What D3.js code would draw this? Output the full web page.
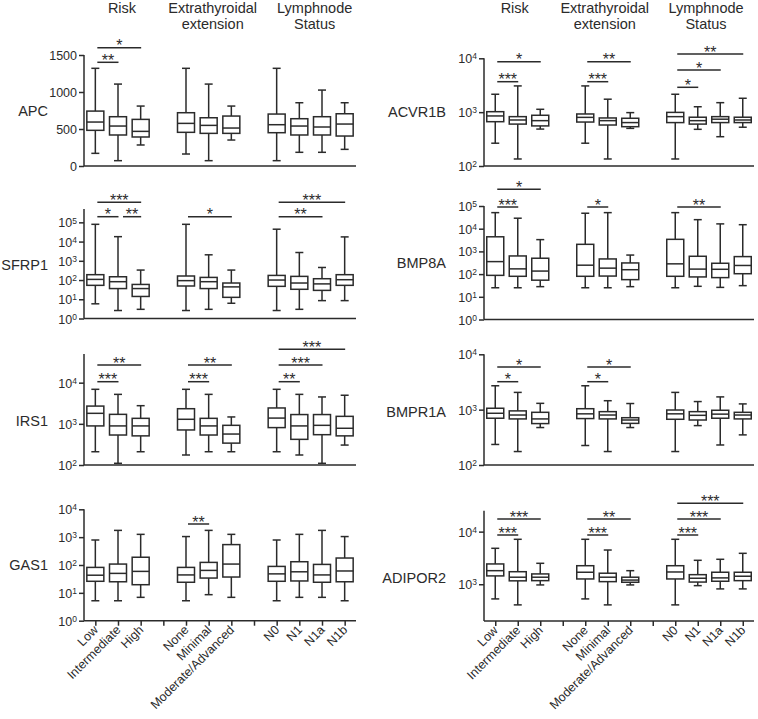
<!DOCTYPE html>
<html><head><meta charset="utf-8">
<script src="https://cdn.jsdelivr.net/npm/d3@7"></script>
<style>
html,body{margin:0;padding:0;background:#fff;}
svg{display:block;font-family:"Liberation Sans",Arial,sans-serif;}
</style></head>
<body>
<svg id="chart" width="758" height="719"></svg>
<script>
// ---------------- DATA ----------------
const slots = ["Low","Intermediate","High","gap1","None","Minimal","Moderate/Advanced","gap2","N0","N1","N1a","N1b"];
const categories = ["Low","Intermediate","High","None","Minimal","Moderate/Advanced","N0","N1","N1a","N1b"];
const groupNames = [["Risk"],["Extrathyroidal","extension"],["Lymphnode","Status"]];
const groupCats = [["Low","Intermediate","High"],["None","Minimal","Moderate/Advanced"],["N0","N1","N1a","N1b"]];
const genes = ["APC","SFRP1","IRS1","GAS1","ACVR1B","BMP8A","BMPR1A","ADIPOR2"];
const linearTicks = [0,500,1000,1500];

// box stats per category: [min, q1, median, q3, max]
const APC = [[171,482,594,742,1320],[72,419,540,666,1107],[284,392,468,630,810],
  [162,455,576,720,1320],[72,441,549,652,1107],[351,441,513,675,810],
  [72,450,558,702,1320],[185,419,540,639,855],[185,419,527,666,1026],[225,405,567,706,855]];
const SFRP1 = [[5.8,53,108,190,79000],[2.6,36,82,148,18000],[3.0,14,36,59,330],
  [2.6,49,93,162,79000],[3.0,36,82,137,2050],[6.2,12.6,44,70,330],
  [2.6,47,100,174,44000],[3.0,33,70,155,2700],[8.5,29,63,117,450],[8.5,53,104,190,17500]];
const IRS1 = [[210,890,1800,2700,6900],[110,535,890,1700,5200],[210,510,890,1360,2760],
  [175,710,1290,2330,6900],[210,535,890,1360,5200],[210,340,565,920,1470],
  [210,810,1380,2430,6900],[175,420,890,1680,5200],[110,545,920,1680,4500],[305,510,780,1520,4950]];
const GAS1 = [[5.2,26,43,82,790],[5.2,25,50,108,1750],[6.9,19.6,59,190,1260],
  [5.2,24,44,82,1050],[8.6,34,64,124,1750],[6.9,37,108,540,1260],
  [5.2,26,48,89,790],[6.9,26.7,57,131,1260],[6.9,24,44,105,1750],[5.2,25,61,178,1050]];
const ACVR1B = [[265,665,850,1020,2150],[135,600,715,825,3070],[485,555,695,875,1130],
  [265,655,800,925,3070],[135,577,695,780,1740],[500,537,640,770,980],
  [135,640,825,990,2150],[480,600,695,805,1260],[350,640,740,825,1500],[525,640,715,805,1810]];
const BMP8A = [[25,88,355,4400,51000],[25,80,170,630,29000],[28,54,136,500,3300],
  [25,80,247,2050,48000],[25,82,183,465,51000],[28,57,156,310,690],
  [25,80,283,3400,51000],[29,75,166,610,25000],[26,70,163,300,16300],[31,104,240,590,15000]];
const BMPR1A = [[235,700,860,1060,2700],[175,680,800,950,2050],[475,560,680,895,1300],
  [225,690,840,1040,2700],[175,680,800,920,1450],[475,565,650,715,1290],
  [175,670,840,985,2050],[515,650,790,920,1400],[230,700,830,975,1700],[350,680,800,895,1270]];
const ADIPOR2 = [[526,1440,1810,2430,4820],[405,1160,1360,1730,7150],[970,1170,1360,1570,2500],
  [526,1260,1690,2250,7150],[405,1120,1360,1620,4470],[970,1090,1200,1360,1810],
  [405,1260,1710,2250,7150],[940,1100,1300,1520,2850],[815,1140,1320,1690,2980],[815,1170,1420,1690,3870]];

// significance: [from, to, label, level]
const sigAPC = [["Low","High","*",1],["Low","Intermediate","**",0]];
const sigSFRP1 = [["Low","High","***",1],["Low","Intermediate","*",0],["Intermediate","High","**",0],
  ["None","Moderate/Advanced","*",0],["N0","N1b","***",1],["N0","N1a","**",0]];
const sigIRS1 = [["Low","High","**",1],["Low","Intermediate","***",0],["None","Moderate/Advanced","**",1],
  ["None","Minimal","***",0],["N0","N1b","***",2],["N0","N1a","***",1],["N0","N1","**",0]];
const sigGAS1 = [["None","Minimal","**",0]];
const sigACVR1B = [["Low","High","*",1],["Low","Intermediate","***",0],["None","Moderate/Advanced","**",1],
  ["None","Minimal","***",0],["N0","N1b","**",2],["N0","N1a","*",1],["N0","N1","*",0]];
const sigBMP8A = [["Low","High","*",1],["Low","Intermediate","***",0],["None","Minimal","*",0],["N0","N1a","**",0]];
const sigBMPR1A = [["Low","High","*",1],["Low","Intermediate","*",0],["None","Moderate/Advanced","*",1],["None","Minimal","*",0]];
const sigADIPOR2 = [["Low","High","***",1],["Low","Intermediate","***",0],["None","Moderate/Advanced","**",1],
  ["None","Minimal","***",0],["N0","N1b","***",2],["N0","N1a","***",1],["N0","N1","***",0]];

const boxData = {APC, SFRP1, IRS1, GAS1, ACVR1B, BMP8A, BMPR1A, ADIPOR2};
const sigData = {APC:sigAPC, SFRP1:sigSFRP1, IRS1:sigIRS1, GAS1:sigGAS1, ACVR1B:sigACVR1B, BMP8A:sigBMP8A, BMPR1A:sigBMPR1A, ADIPOR2:sigADIPOR2};

// ---------------- LAYOUT ----------------
const COL = [{x:[84,356], labelX:48, headOff:4}, {x:[484,754], labelX:446, headOff:-3}];
const layout = {
  APC:    {col:0, type:"linear", domain:[0,1500],  range:[166,55],     ticks:linearTicks, sigY:[62.3,47.7], labelY:111, xlabels:false},
  SFRP1:  {col:0, type:"log", domain:[1,5e5],      range:[318.5,208.9], ticks:[1,10,100,1e3,1e4,1e5], sigY:[216.7,202.3], labelY:265, xlabels:false},
  IRS1:   {col:0, type:"log", domain:[100,5e4],    range:[465,353.9],  ticks:[100,1e3,1e4], sigY:[381.7,365,349.3], labelY:421, xlabels:false},
  GAS1:   {col:0, type:"log", domain:[1,1e4],      range:[620.7,509.3], ticks:[1,10,100,1e3,1e4], sigY:[524], labelY:565, xlabels:true},
  ACVR1B: {col:1, type:"log", domain:[100,1e4],    range:[166,58.3],   ticks:[100,1e3,1e4], sigY:[81.7,61.7], sigYLymph:[87.3,70,54], labelY:112, xlabels:false},
  BMP8A:  {col:1, type:"log", domain:[1,1e5],      range:[319.5,206],  ticks:[1,10,100,1e3,1e4,1e5], sigY:[207,189.3], labelY:263, xlabels:false},
  BMPR1A: {col:1, type:"log", domain:[100,1e4],    range:[465,354.3],  ticks:[100,1e3,1e4], sigY:[381.7,367], labelY:412, xlabels:false},
  ADIPOR2:{col:1, type:"log", domain:[200,25000],  range:[621,510.7],  ticks:[1e3,1e4], sigY:[535,519,503.3], labelY:578, xlabels:true}
};
const INK = "#2b2b2b";
const LW = 1.5;
const BOXW = 17, CAPW = 8;

const svg = d3.select("#chart");

// headers
COL.forEach((c) => {
  const x = d3.scalePoint().domain(slots).range(c.x).padding(0.5);
  groupNames.forEach((lines, gi) => {
    const cats = groupCats[gi];
    const cx = (x(cats[0]) + x(cats[cats.length-1]))/2 + c.headOff;
    const t = svg.append("text").attr("x", cx).attr("y", 12.7)
      .attr("text-anchor","middle").attr("font-size", 14.5).attr("fill", INK);
    lines.forEach((ln, li) => {
      t.append("tspan").attr("x", cx).attr("y", 12.7 + li*16.3).text(ln);
    });
  });
});

const lymphCats = groupCats[2];

genes.forEach(g => {
  const L = layout[g];
  const C = COL[L.col];
  const x = d3.scalePoint().domain(slots).range(C.x).padding(0.5);
  const y = (L.type === "linear" ? d3.scaleLinear() : d3.scaleLog()).domain(L.domain).range(L.range);
  const gp = svg.append("g");

  // y axis
  const yAxis = d3.axisLeft(y).tickValues(L.ticks).tickSize(5).tickPadding(2).tickFormat("");
  const ya = gp.append("g").attr("transform", `translate(${C.x[0]},0)`).call(yAxis);
  ya.select(".domain").attr("d", `M0,${L.range[1]}V${L.range[0]}`).attr("stroke", INK).attr("stroke-width", LW);
  ya.selectAll(".tick line").attr("stroke", INK).attr("stroke-width", LW);
  ya.selectAll(".tick").each(function(d){
    const t = d3.select(this).append("text").attr("x", -7).attr("dy","0.36em")
      .attr("text-anchor","end").attr("fill", INK).attr("font-size", 12.5);
    if (L.type === "linear") { t.text(d); }
    else {
      const e = Math.round(Math.log10(d));
      t.append("tspan").text("10");
      t.append("tspan").attr("font-size", 8.5).attr("dy", "-0.45em").text(e);
    }
  });

  // x axis
  const xAxis = d3.axisBottom(x).tickSize(L.xlabels ? 5 : 0).tickFormat("");
  const xa = gp.append("g").attr("transform", `translate(0,${L.range[0]})`).call(xAxis);
  xa.select(".domain").attr("d", `M${C.x[0]},0H${C.x[1]}`).attr("stroke", INK).attr("stroke-width", LW);
  xa.selectAll(".tick line").attr("stroke", INK).attr("stroke-width", LW);
  if (L.xlabels) {
    xa.selectAll(".tick").filter(d => !d.startsWith("gap")).append("text")
      .attr("transform", "translate(3,10) rotate(-45)")
      .attr("text-anchor","end").attr("fill", INK).attr("font-size", 12.5)
      .text(d => d);
  }

  // gene label
  gp.append("text").attr("x", C.labelX).attr("y", L.labelY).attr("dy","0.36em")
    .attr("text-anchor","end").attr("font-size", 14.5).attr("fill", INK).text(g);

  // boxes
  const data = boxData[g];
  const bx = gp.append("g").attr("stroke", INK).attr("stroke-width", LW).attr("fill","none");
  categories.forEach((cat, i) => {
    const [mn, q1, md, q3, mx] = data[i];
    const cx = x(cat);
    const b = bx.append("g");
    b.append("line").attr("x1", cx).attr("x2", cx).attr("y1", y(mx)).attr("y2", y(q3));
    b.append("line").attr("x1", cx).attr("x2", cx).attr("y1", y(q1)).attr("y2", y(mn));
    b.append("line").attr("x1", cx-CAPW/2).attr("x2", cx+CAPW/2).attr("y1", y(mx)).attr("y2", y(mx));
    b.append("line").attr("x1", cx-CAPW/2).attr("x2", cx+CAPW/2).attr("y1", y(mn)).attr("y2", y(mn));
    b.append("rect").attr("x", cx-BOXW/2).attr("width", BOXW)
      .attr("y", y(q3)).attr("height", y(q1)-y(q3)).attr("fill","#fff");
    b.append("line").attr("x1", cx-BOXW/2).attr("x2", cx+BOXW/2).attr("y1", y(md)).attr("y2", y(md));
  });

  // significance bars
  const sigs = sigData[g];
  sigs.forEach(s => {
    const [from, to, lab, lvl] = s;
    const isLymph = lymphCats.includes(from);
    const ys = (isLymph && L.sigYLymph) ? L.sigYLymph : L.sigY;
    const yy = ys[lvl];
    let x1 = x(from) + 2, x2 = x(to) + 0.5;
    if (sigs.some(o => o !== s && o[3] === lvl && o[1] === from)) x1 += 3;
    gp.append("line").attr("x1", x1).attr("x2", x2).attr("y1", yy).attr("y2", yy)
      .attr("stroke", INK).attr("stroke-width", LW);
    gp.append("text").attr("x", (x1+x2)/2).attr("y", yy + 3.5)
      .attr("text-anchor","middle").attr("font-size", 16).attr("fill", INK).text(lab);
  });
});
</script>
</body></html>
